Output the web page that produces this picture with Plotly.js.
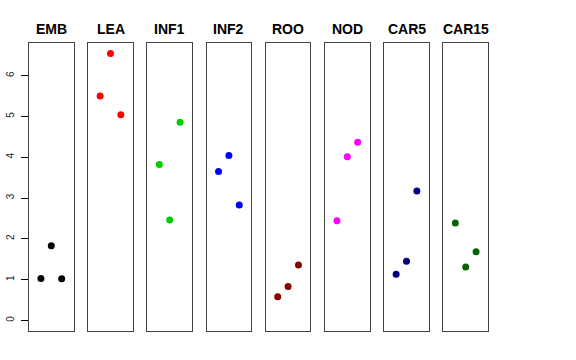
<!DOCTYPE html>
<html>
<head>
<meta charset="utf-8">
<script src="https://cdn.plot.ly/plotly-3.0.1.min.js"></script>
<style>html,body{margin:0;padding:0;background:#fff}</style>
</head>
<body>
<div id="chart" style="width:576px;height:360px"></div>
<script>
const panels = ["EMB", "LEA", "INF1", "INF2", "ROO", "NOD", "CAR5", "CAR15"];
const colors = ["#000000", "#FF0000", "#00CD00", "#0000FF", "#8B0000", "#FF00FF", "#000080", "#006400"];
const xpos = [1, 2, 3];
const EMB = [1.03, 1.83, 1.02];
const LEA = [5.50, 6.54, 5.04];
const INF1 = [3.82, 2.46, 4.86];
const INF2 = [3.65, 4.04, 2.83];
const ROO = [0.58, 0.83, 1.36];
const NOD = [2.44, 4.01, 4.37];
const CAR5 = [1.13, 1.45, 3.17];
const CAR15 = [2.39, 1.31, 1.68];
const yTicks = [0, 1, 2, 3, 4, 5, 6];

const series = [EMB, LEA, INF1, INF2, ROO, NOD, CAR5, CAR15];

const W = 576, H = 360;
const mL = 29, mR = 88, mT = 43, mB = 29;
const plotW = W - mL - mR;
const pitch = 59.2, pw = 44.6;

const traces = [];
const layout = {
  width: W, height: H,
  margin: {l: mL, r: mR, t: mT, b: mB, pad: 0},
  paper_bgcolor: "#fff", plot_bgcolor: "#fff",
  showlegend: false,
  font: {family: "Liberation Sans, Arial, sans-serif", color: "#000"},
  annotations: []
};

panels.forEach((name, i) => {
  const sfx = i === 0 ? "" : String(i + 1);
  traces.push({
    type: "scatter", mode: "markers",
    x: xpos, y: series[i],
    xaxis: "x" + sfx, yaxis: "y" + sfx,
    marker: {color: colors[i], size: 7},
    hoverinfo: "skip"
  });
  const x0 = (i * pitch) / plotW;
  const x1 = (i * pitch + pw) / plotW;
  layout["xaxis" + sfx] = {
    domain: [x0, x1], range: [-0.15, 4.15],
    showgrid: false, zeroline: false, showticklabels: false, ticks: "",
    showline: true, mirror: true, linecolor: "#444", linewidth: 1,
    anchor: "y" + sfx, fixedrange: true
  };
  const ya = {
    domain: [0, 1], range: [-0.26, 6.80],
    showgrid: false, zeroline: false,
    showline: true, mirror: true, linecolor: "#444", linewidth: 1,
    anchor: "x" + sfx, fixedrange: true
  };
  if (i === 0) {
    Object.assign(ya, {
      tickvals: yTicks, ticktext: yTicks.map(String),
      ticks: "outside", ticklen: 7, tickcolor: "#000", tickwidth: 1,
      tickangle: -90, tickfont: {size: 10, color: "#222"}, ticklabelstandoff: 3
    });
  } else {
    Object.assign(ya, {showticklabels: false, ticks: ""});
  }
  layout["yaxis" + sfx] = ya;
  layout.annotations.push({
    text: "<b>" + name + "</b>",
    xref: "paper", yref: "paper",
    x: (x0 + x1) / 2, y: 1.048, xanchor: "center", yanchor: "middle",
    showarrow: false, font: {size: 14, color: "#000"}
  });
});

Plotly.newPlot("chart", traces, layout, {staticPlot: true, displayModeBar: false});
</script>
</body>
</html>
